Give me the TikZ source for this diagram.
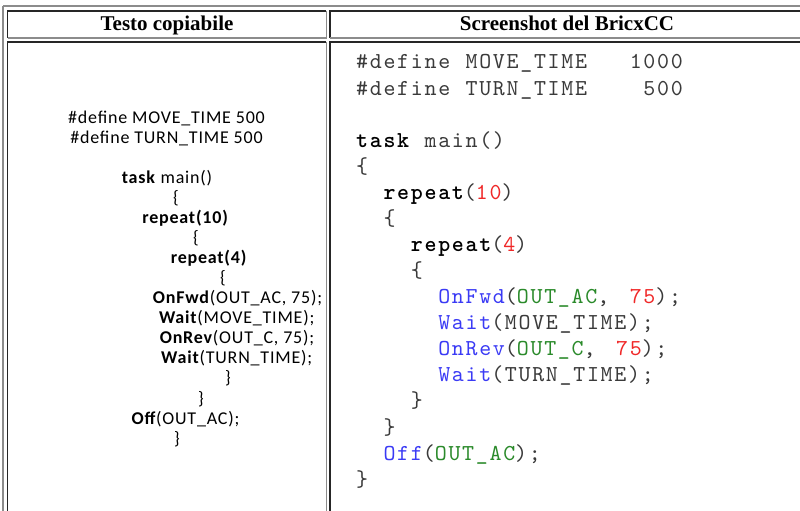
\documentclass[tikz,border=0pt]{standalone}
\usepackage{fontspec}
\setmainfont{Liberation Serif}
\newfontfamily\calib{Carlito}[LetterSpace=4.4]
\newfontfamily\cour{lmmono10-regular.otf}[LetterSpace=7.5, BoldFont=lmmonolt10-bold.otf]
\definecolor{darkb}{HTML}{262626}
\definecolor{lightb}{HTML}{8C8C8C}
\definecolor{codegray}{HTML}{3A3A3A}
\definecolor{cblue}{HTML}{3A3AF5}
\definecolor{cred}{HTML}{F02828}
\definecolor{cgreen}{HTML}{2A8A2A}
\tikzset{
  lc/.style={anchor=base, inner sep=0pt, font=\calib\fontsize{18}{20}\selectfont},
  rc/.style={anchor=base west, inner sep=0pt, font=\cour\fontsize{22.8}{26}\selectfont, text=codegray},
  hd/.style={anchor=base, inner sep=0pt, font=\bfseries\fontsize{21}{25}\selectfont},
  dk/.style={draw=darkb, line width=1.5pt},
  lg/.style={draw=lightb, line width=1.5pt}
}
\def\cw{13.68}
\begin{document}
\begin{tikzpicture}[x=1pt,y=-1pt]
\useasboundingbox (0,0) rectangle (800,511);
\fill[white] (0,0) rectangle (800,511);
% outer table border
\draw[lg] (3,5.8) -- (801,5.8);
\draw[lg] (3,5.8) -- (3,512);
% header cells
\draw[dk] (7.7,38.2) -- (7.7,11.2) -- (326.3,11.2);
\draw[lg] (7.7,38.2) -- (326.3,38.2) -- (326.3,11.2);
\draw[dk] (330.2,38.2) -- (330.2,11.2) -- (801,11.2);
\draw[lg] (330.2,38.2) -- (801,38.2);
% body cells
\draw[dk] (7.7,512) -- (7.7,42.2) -- (326.3,42.2);
\draw[lg] (326.3,42.2) -- (326.3,512);
\draw[dk] (330.2,512) -- (330.2,42.2) -- (801,42.2);
% headers
\node[hd] (h1) at (167,31) {Testo copiabile};
\node[hd] (h2) at (567,31) {Screenshot del BricxCC};
% left code
\node[lc] (l0) at (166.5,123) {\#define MOVE\_TIME 500};
\node[lc] (l1) at (166.5,143.1) {\#define TURN\_TIME 500};
\node[lc] (l3) at (167,183.2) {\textbf{task} main()};
\node[lc] (l4) at (176,203.3) {\{};
\node[lc] (l5) at (185.5,223.3) {\textbf{repeat(10)}};
\node[lc] (l6) at (196,243.4) {\{};
\node[lc] (l7) at (209,263.5) {\textbf{repeat(4)}};
\node[lc] (l8) at (223,283.5) {\{};
\node[lc] (l9) at (237.5,303.6) {\textbf{OnFwd}(OUT\_AC, 75);};
\node[lc] (l10) at (236.7,323.7) {\textbf{Wait}(MOVE\_TIME);};
\node[lc] (l11) at (237,343.8) {\textbf{OnRev}(OUT\_C, 75);};
\node[lc] (l12) at (236.7,363.8) {\textbf{Wait}(TURN\_TIME);};
\node[lc] (l13) at (228,383.9) {\}};
\node[lc] (l14) at (201,404) {\}};
\node[lc] (l15) at (185.5,424) {\textbf{Off}(OUT\_AC);};
\node[lc] (l16) at (177,444.1) {\}};
% right code
\node[rc] (r0a) at (356,69) {\#define};
\node[rc] (r0b) at (356+8*\cw,69) {MOVE\_TIME};
\node[rc] (r0n) at (356+20*\cw,69) {1000};
\node[rc] (r1a) at (356,95.1) {\#define};
\node[rc] (r1b) at (356+8*\cw,95.1) {TURN\_TIME};
\node[rc] (r1n) at (356+21*\cw,95.1) {500};
\node[rc] (r3a) at (356,147.2) {\textbf{\color{black}task}};
\node[rc] (r3b) at (356+5*\cw,147.2) {main()};
\node[rc] (r4) at (356,173.3) {\{};
\node[rc] (r5) at (356+2*\cw,199.4) {\textbf{\color{black}repeat}(\textcolor{cred}{10})};
\node[rc] (r6) at (356+2*\cw,225.4) {\{};
\node[rc] (r7) at (356+4*\cw,251.5) {\textbf{\color{black}repeat}(\textcolor{cred}{4})};
\node[rc] (r8) at (356+4*\cw,277.6) {\{};
\node[rc] (r9a) at (356+6*\cw,303.6) {\textcolor{cblue}{OnFwd}(\textcolor{cgreen}{OUT\_AC},};
\node[rc] (r9b) at (356+20*\cw,303.6) {\textcolor{cred}{75});};
\node[rc] (r10) at (356+6*\cw,329.7) {\textcolor{cblue}{Wait}(MOVE\_TIME);};
\node[rc] (r11a) at (356+6*\cw,355.8) {\textcolor{cblue}{OnRev}(\textcolor{cgreen}{OUT\_C},};
\node[rc] (r11b) at (356+19*\cw,355.8) {\textcolor{cred}{75});};
\node[rc] (r12) at (356+6*\cw,381.8) {\textcolor{cblue}{Wait}(TURN\_TIME);};
\node[rc] (r13) at (356+4*\cw,407.9) {\}};
\node[rc] (r14) at (356+2*\cw,434) {\}};
\node[rc] (r15) at (356+2*\cw,460) {\textcolor{cblue}{Off}(\textcolor{cgreen}{OUT\_AC});};
\node[rc] (r16) at (356,486.1) {\}};
\end{tikzpicture}
\end{document}
